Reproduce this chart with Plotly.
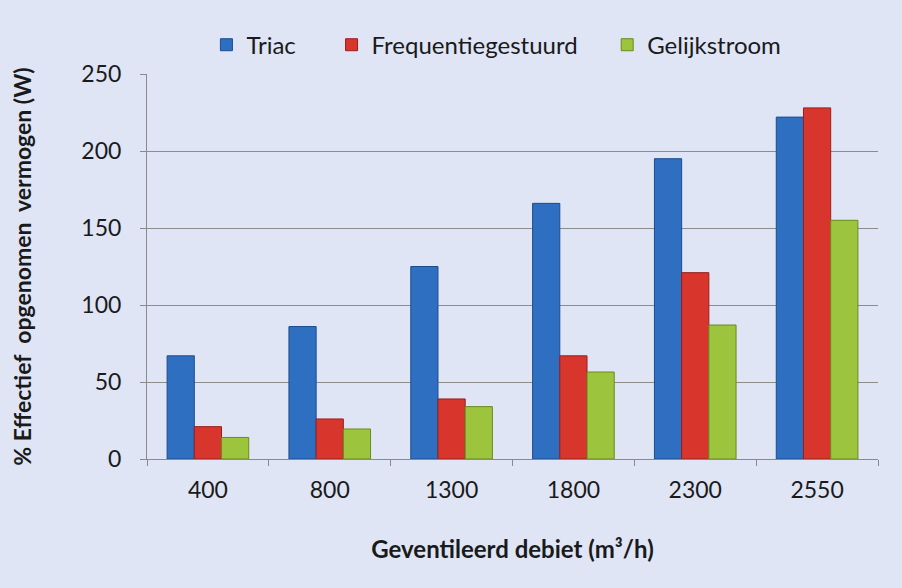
import plotly.graph_objects as go

debiet = ["400", "800", "1300", "1800", "2300", "2550"]
triac = [67, 86, 125, 166, 195, 222]
frequentie = [21, 26, 39, 67, 121, 228]
gelijkstroom = [14, 19.5, 34, 56.5, 87, 155]

BG = "#dfe5f5"
FONT = "Lato"
PAD = "\u00a0"

fig = go.Figure()
for name, vals, col, edge in [
    ("Triac" + PAD * 5, triac, "#2f6fc2", "#1d4c8c"),
    ("Frequentiegestuurd" + PAD * 4, frequentie, "#d8352c", "#9a1f1a"),
    ("Gelijkstroom", gelijkstroom, "#9cc43c", "#6a8a22"),
]:
    fig.add_bar(x=debiet, y=vals, name=name,
                marker=dict(color=col, line=dict(color=edge, width=1)))

fig.update_layout(
    width=902, height=588,
    paper_bgcolor=BG, plot_bgcolor=BG,
    margin=dict(l=147, r=24, t=74, b=129),
    barmode="group", bargap=0.33, bargroupgap=0,
    font=dict(family=FONT, size=23, color="#1a1a1a"),
    legend=dict(orientation="h", x=0.478, xanchor="center", y=1.075, yanchor="middle",
                font=dict(size=24), itemwidth=30, bgcolor="rgba(0,0,0,0)"),
    xaxis=dict(
        showline=True, linecolor="#8a8a8a", linewidth=1,
        ticks="outside", ticklen=6, tickcolor="#8a8a8a", tickson="boundaries",
        ticklabelstandoff=10,
        title=dict(text="<b>Geventileerd debiet (m³/h)</b>", standoff=39,
                   font=dict(size=24)),
    ),
    yaxis=dict(
        range=[0, 250], dtick=50,
        showline=True, linecolor="#8a8a8a", linewidth=1,
        showgrid=True, gridcolor="#8c8c8c", gridwidth=1,
        ticks="outside", ticklen=6, tickcolor="#8a8a8a",
        ticklabelstandoff=14,
        zeroline=False,
        title=dict(text="<b>% Effectief  opgenomen  vermogen (W)</b>", standoff=43,
                   font=dict(size=23)),
    ),
)

fig.write_html("out.html", config={"displayModeBar": False},
               post_script="document.body.style.margin='0';")
